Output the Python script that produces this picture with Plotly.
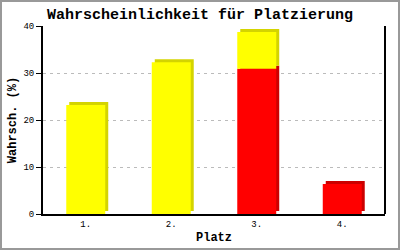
import plotly.graph_objects as go

categories = ["1.", "2.", "3.", "4."]
red_vals = [0, 0, 30.9, 6.4]
yellow_vals = [23.2, 32.3, 7.8, 0]
y_ticks = [0, 10, 20, 30, 40]

W, H = 400, 250
L, R, T, B = 43, 15, 26, 36
pw, ph = W - L - R, H - T - B

lift = 3 * 40 / ph          # 3px depth in data units
shift = 3 / (pw / 4)        # 3px depth in category units
bw = 0.456
off = -0.228

def nz(v):
    return [x if x else None for x in v]

red = nz(red_vals)
yel = nz(yellow_vals)
yel_base = [r for r in red_vals]

fig = go.Figure()
fig.add_bar(x=categories, y=red, base=[lift] * 4, width=bw, offset=off + shift,
            marker=dict(color="#CC0000", line_width=0))
fig.add_bar(x=categories, y=yel, base=[b + lift for b in yel_base], width=bw, offset=off + shift,
            marker=dict(color="#D4D400", line_width=0))
fig.add_bar(x=categories, y=red, base=[0] * 4, width=bw, offset=off,
            marker=dict(color="#FF0000", line_width=0))
fig.add_bar(x=categories, y=yel, base=yel_base, width=bw, offset=off,
            marker=dict(color="#FFFF00", line_width=0))

mono = "Liberation Mono, DejaVu Sans Mono, monospace"
fig.update_layout(
    width=W, height=H, barmode="overlay", showlegend=False,
    margin=dict(l=L, r=R, t=T, b=B, autoexpand=False),
    paper_bgcolor="white", plot_bgcolor="white",
    font=dict(family=mono, color="black", size=9),
    title=dict(text="<b>Wahrscheinlichkeit für Platzierung</b>", x=0.5, xanchor="center",
               y=1 - 14 / H, yanchor="middle", font=dict(size=15, family=mono)),
    xaxis=dict(showgrid=False, ticks="", showline=True, linecolor="black", linewidth=2,
               mirror=False, tickfont=dict(size=9), automargin=False,
               title=dict(text="<b>Platz</b>", font=dict(size=12), standoff=4)),
    yaxis=dict(range=[0, 40], tickvals=y_ticks, ticks="outside", ticklen=5, tickcolor="black",
               showline=True, linecolor="black", linewidth=2, zeroline=False, automargin=False,
               showgrid=True, gridcolor="#BBBBBB", griddash="3px,4px", gridwidth=1,
               tickfont=dict(size=9),
               title=dict(text="<b>Wahrsch. (%)</b>", font=dict(size=12), standoff=4)),
    shapes=[
        dict(type="line", xref="paper", yref="paper", x0=1, x1=1, y0=0, y1=1,
             line=dict(color="black", width=2)),
        dict(type="rect", xref="paper", yref="paper",
             x0=-(L - 1) / pw, x1=1 + (R - 1) / pw, y0=-(B - 1) / ph, y1=1 + (T - 1) / ph,
             line=dict(color="#999999", width=2)),
    ],
)

fig.write_html("out.html")
